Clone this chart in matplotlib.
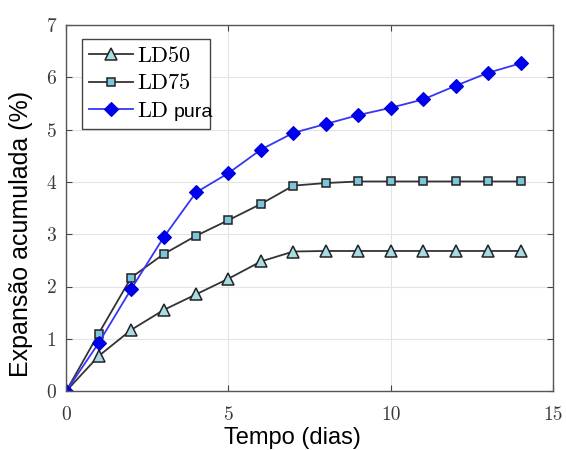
import matplotlib
matplotlib.use('Agg')
import matplotlib.pyplot as plt
from matplotlib.transforms import IdentityTransform

plt.rcParams['mathtext.fontset'] = 'cm'
plt.rcParams['font.family'] = ['Liberation Sans', 'DejaVu Sans']

dias = [0, 1, 2, 3, 4, 5, 6, 7, 8, 9, 10, 11, 12, 13, 14]
ld50 = [0, 0.67, 1.17, 1.55, 1.85, 2.15, 2.48, 2.67, 2.68, 2.68, 2.68, 2.68, 2.68, 2.68, 2.68]
ld75 = [0, 1.10, 2.17, 2.62, 2.97, 3.27, 3.58, 3.93, 3.98, 4.01, 4.01, 4.01, 4.01, 4.01, 4.01]
ld_pura = [0, 0.92, 1.95, 2.94, 3.80, 4.17, 4.62, 4.94, 5.11, 5.28, 5.42, 5.58, 5.84, 6.09, 6.27]

x_ticks = [0, 5, 10, 15]
y_ticks = [0, 1, 2, 3, 4, 5, 6, 7]

fig = plt.figure(figsize=(5.66, 4.5), dpi=100)
ax = fig.add_axes([0.117, 0.131, 0.860, 0.813])

# trailing spaces on LD50 widen the legend box to make room for "pura"
ax.plot(dias, ld50, color='#333333', lw=1.3, marker='^', ms=9,
        mfc='#a9dbe3', mec='#222222', mew=1.1,
        label=r'$\mathrm{LD50}$' + '\u2002' * 2)
ax.plot(dias, ld75, color='#333333', lw=1.3, marker='s', ms=6,
        mfc='#7cc6dc', mec='#222222', mew=1.1, label=r'$\mathrm{LD75}$')
ax.plot(dias, ld_pura, color='#3636f5', lw=1.3, marker='D', ms=7,
        mfc='#0000f0', mec='#0000d0', mew=0.8, label=r'$\mathrm{LD}$')

ax.set_xlim(0, 15)
ax.set_ylim(0, 7)
ax.set_xticks(x_ticks)
ax.set_yticks(y_ticks)
ax.set_xticklabels([str(t) for t in x_ticks], fontfamily='cmr10', fontsize=14)
ax.set_yticklabels([str(t) for t in y_ticks], fontfamily='cmr10', fontsize=14)
ax.tick_params(axis='x', pad=11)
ax.tick_params(axis='y', pad=7)
ax.tick_params(direction='in', top=True, right=True, length=4, width=0.8,
               colors='#444444', labelcolor='#3a3a3a')
ax.grid(True, color='#e4e4e4', lw=0.8)
ax.set_axisbelow(True)
for s in ax.spines.values():
    s.set_color('#555555')
    s.set_linewidth(1.0)

ax.set_xlabel('Tempo (dias)', fontsize=17)
ax.set_ylabel('Expansão acumulada (%)', fontsize=18)
ax.xaxis.set_label_coords(0.465, -0.099)
ax.yaxis.set_label_coords(-0.068, 0.43)

leg = ax.legend(loc='upper left', bbox_to_anchor=(0.033, 0.962), fontsize=16,
                borderaxespad=0, fancybox=False, edgecolor='#444444',
                framealpha=1, handlelength=2.0, handletextpad=0.15,
                borderpad=0.3, labelspacing=0.3)
leg.get_frame().set_linewidth(1.0)

# "pura" in a smaller sans font right after the "LD" of the third entry
fig.canvas.draw()
renderer = fig.canvas.get_renderer()
t3 = leg.get_texts()[2]
ld_w = t3.get_window_extent(renderer).width
bx, by = t3.get_transform().transform(t3.get_position())
fig.text(bx + ld_w + 5, by, 'pura', fontsize=14, va='baseline', ha='left',
         transform=IdentityTransform())

plt.savefig('out.png', dpi=100)
